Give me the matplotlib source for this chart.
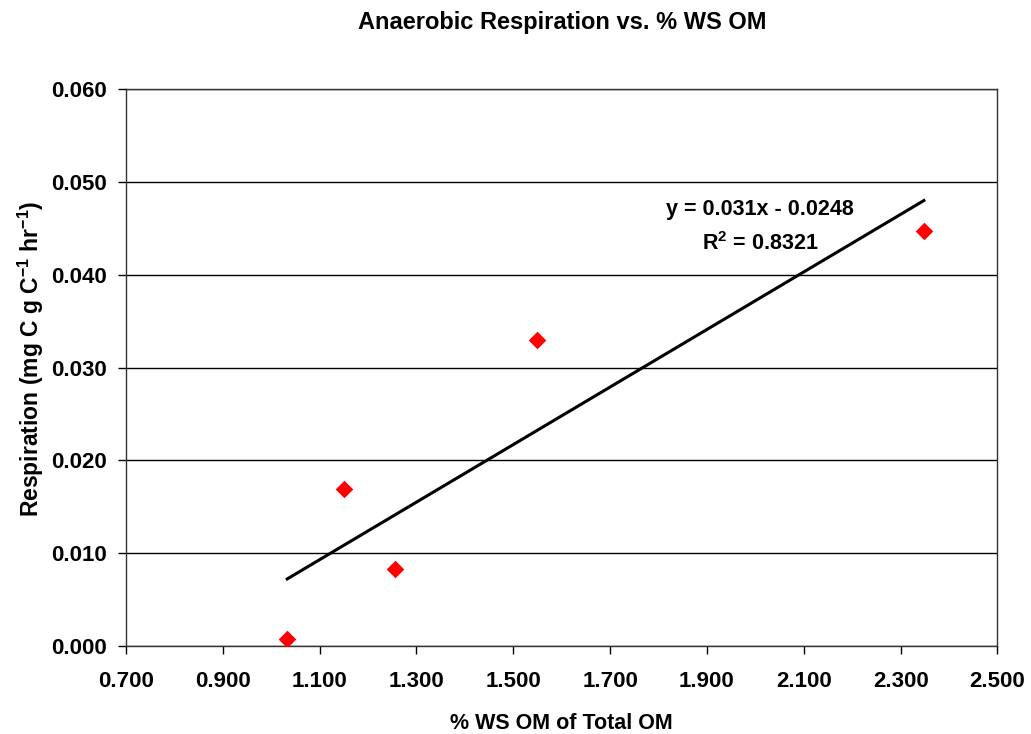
import numpy as np
import matplotlib.pyplot as plt

plt.rcParams['font.family'] = ['Liberation Sans', 'DejaVu Sans']
plt.rcParams['font.weight'] = 'bold'
plt.rcParams['mathtext.fontset'] = 'custom'
plt.rcParams['mathtext.rm'] = 'Liberation Sans:bold'
plt.rcParams['mathtext.bf'] = 'Liberation Sans:bold'
plt.rcParams['mathtext.default'] = 'bf'

ws_om = [1.033, 1.150, 1.255, 1.548, 2.348]
respiration = [0.00075, 0.0169, 0.0083, 0.0330, 0.0447]
slope = 0.031
intercept = -0.0248
r2 = 0.8321

fig = plt.figure(figsize=(10.31, 7.34), dpi=100)
ax = fig.add_axes([0.1222, 0.1199, 0.8453, 0.7588])

xs = np.array([min(ws_om), max(ws_om)])
ax.plot(xs, slope * xs + intercept, color='black', lw=2.2, zorder=2)
ax.scatter(ws_om, respiration, marker='D', s=80, color='#ff0000', zorder=3, linewidths=0)

ax.set_xlim(0.7, 2.5)
ax.set_ylim(0, 0.06)
ax.set_xticks(np.arange(0.7, 2.51, 0.2))
ax.set_yticks(np.arange(0, 0.061, 0.01))
ax.xaxis.set_major_formatter(plt.FormatStrFormatter('%.3f'))
ax.yaxis.set_major_formatter(plt.FormatStrFormatter('%.3f'))
ax.tick_params(axis='both', direction='out', length=6, width=1, labelsize=16, pad=6)
ax.tick_params(axis='x', pad=12)
ax.tick_params(axis='y', pad=8)
ax.grid(axis='y', color='black', lw=1)
ax.set_axisbelow(True)
for s in ax.spines.values():
    s.set_color('#333333')
    s.set_linewidth(1)

ax.text(2.009, 0.047, 'y = 0.031x - 0.0248', ha='center', va='center', fontsize=15.5, fontweight='bold')
ax.text(2.009, 0.0434, 'R$^2$ = %.4f' % r2, ha='center', va='center', fontsize=15.5, fontweight='bold')

ax.set_xlabel('% WS OM of Total OM', fontsize=15.5, fontweight='bold', labelpad=15)
ax.set_ylabel('Respiration (mg C g C$^{-1}$ hr$^{-1}$)', fontsize=16.5, fontweight='bold')
ax.yaxis.set_label_coords(-0.092, 0.515)
fig.text(0.545, 0.970, 'Anaerobic Respiration vs. % WS OM', ha='center', va='center', fontsize=17, fontweight='bold')

fig.savefig('out.png', dpi=100)
